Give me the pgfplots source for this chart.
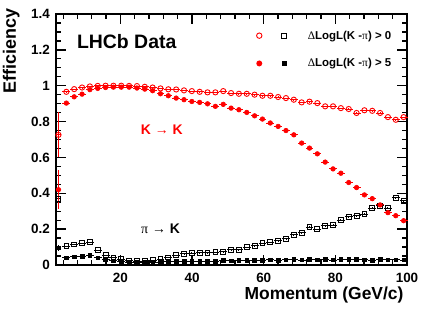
\documentclass[border=0pt]{standalone}
\usepackage{pgfplots}
\usepackage{pgfplotstable}
\pgfplotsset{compat=1.18}
\usepackage{fontspec}
\setmainfont{Liberation Sans}
\newfontfamily\symf{Liberation Serif}
\definecolor{rootred}{RGB}{255,0,0}

% K -> K, DLL(K-pi) > 0
\pgfplotstableread{
x y ex ey
2.70 0.726 0.7 0.125
4.89 0.966 1.1 0.003
7.08 0.981 1.1 0.003
9.27 0.990 1.1 0.003
11.46 0.996 1.1 0.003
13.65 0.999 1.1 0.003
15.84 1.000 1.1 0.003
18.03 1.000 1.1 0.003
20.22 1.000 1.1 0.003
22.41 0.999 1.1 0.003
24.60 0.998 1.1 0.003
26.79 0.994 1.1 0.003
28.98 0.990 1.1 0.003
31.17 0.985 1.1 0.003
33.36 0.980 1.1 0.003
35.55 0.979 1.1 0.003
37.74 0.974 1.1 0.003
39.93 0.970 1.1 0.003
42.12 0.966 1.1 0.003
44.31 0.963 1.1 0.003
46.50 0.963 1.1 0.003
48.69 0.970 1.1 0.003
50.88 0.959 1.1 0.003
53.07 0.955 1.1 0.003
55.26 0.955 1.1 0.003
57.45 0.950 1.1 0.003
59.64 0.944 1.1 0.003
61.83 0.944 1.1 0.003
64.02 0.937 1.1 0.003
66.21 0.931 1.1 0.003
68.40 0.922 1.1 0.003
70.59 0.907 1.1 0.003
72.78 0.911 1.1 0.003
74.97 0.903 1.1 0.003
77.16 0.885 1.1 0.003
79.35 0.885 1.1 0.003
81.54 0.875 1.1 0.003
83.73 0.870 1.1 0.003
85.92 0.848 1.1 0.003
88.11 0.863 1.1 0.003
90.30 0.860 1.1 0.003
92.49 0.848 1.1 0.003
94.68 0.825 1.1 0.003
96.87 0.810 1.1 0.003
99.06 0.825 1.1 0.003
}\redopen

% K -> K, DLL(K-pi) > 5
\pgfplotstableread{
x y ex ey
2.70 0.420 0.7 0.110
4.89 0.903 1.1 0.004
7.08 0.938 1.1 0.004
9.27 0.953 1.1 0.004
11.46 0.978 1.1 0.004
13.65 0.985 1.1 0.004
15.84 0.990 1.1 0.004
18.03 0.992 1.1 0.004
20.22 0.992 1.1 0.004
22.41 0.992 1.1 0.004
24.60 0.987 1.1 0.004
26.79 0.981 1.1 0.004
28.98 0.972 1.1 0.004
31.17 0.955 1.1 0.004
33.36 0.944 1.1 0.004
35.55 0.931 1.1 0.004
37.74 0.922 1.1 0.004
39.93 0.912 1.1 0.004
42.12 0.907 1.1 0.004
44.31 0.899 1.1 0.004
46.50 0.885 1.1 0.004
48.69 0.896 1.1 0.004
50.88 0.875 1.1 0.004
53.07 0.866 1.1 0.004
55.26 0.851 1.1 0.005
57.45 0.832 1.1 0.005
59.64 0.814 1.1 0.005
61.83 0.792 1.1 0.005
64.02 0.773 1.1 0.005
66.21 0.750 1.1 0.005
68.40 0.726 1.1 0.005
70.59 0.680 1.1 0.006
72.78 0.652 1.1 0.006
74.97 0.620 1.1 0.006
77.16 0.574 1.1 0.006
79.35 0.536 1.1 0.006
81.54 0.512 1.1 0.006
83.73 0.460 1.1 0.006
85.92 0.432 1.1 0.006
88.11 0.391 1.1 0.006
90.30 0.370 1.1 0.006
92.49 0.335 1.1 0.006
94.68 0.292 1.1 0.006
96.87 0.275 1.1 0.006
99.06 0.247 1.1 0.006
}\redfilled

% pi -> K, DLL(K-pi) > 0
\pgfplotstableread{
x y ex ey
2.70 0.370 0.7 0.030
4.89 0.105 1.1 0.003
7.08 0.115 1.1 0.003
9.27 0.122 1.1 0.003
11.46 0.128 1.1 0.003
13.65 0.082 1.1 0.003
15.84 0.055 1.1 0.003
18.03 0.042 1.1 0.003
20.22 0.032 1.1 0.003
22.41 0.025 1.1 0.003
24.60 0.022 1.1 0.003
26.79 0.022 1.1 0.003
28.98 0.026 1.1 0.003
31.17 0.032 1.1 0.003
33.36 0.042 1.1 0.003
35.55 0.055 1.1 0.003
37.74 0.063 1.1 0.003
39.93 0.067 1.1 0.003
42.12 0.069 1.1 0.003
44.31 0.069 1.1 0.003
46.50 0.071 1.1 0.003
48.69 0.074 1.1 0.003
50.88 0.084 1.1 0.003
53.07 0.086 1.1 0.003
55.26 0.099 1.1 0.003
57.45 0.108 1.1 0.003
59.64 0.121 1.1 0.003
61.83 0.127 1.1 0.003
64.02 0.136 1.1 0.003
66.21 0.146 1.1 0.003
68.40 0.168 1.1 0.004
70.59 0.180 1.1 0.004
72.78 0.211 1.1 0.004
74.97 0.199 1.1 0.004
77.16 0.220 1.1 0.004
79.35 0.223 1.1 0.004
81.54 0.251 1.1 0.005
83.73 0.270 1.1 0.005
85.92 0.275 1.1 0.005
88.11 0.283 1.1 0.005
90.30 0.317 1.1 0.005
92.49 0.330 1.1 0.005
94.68 0.317 1.1 0.005
96.87 0.376 1.1 0.006
99.06 0.359 1.1 0.006
}\blackopen

% pi -> K, DLL(K-pi) > 5
\pgfplotstableread{
x y ex ey
2.70 0.095 0.7 0.015
4.89 0.040 1.1 0.003
7.08 0.046 1.1 0.003
9.27 0.050 1.1 0.003
11.46 0.054 1.1 0.003
13.65 0.040 1.1 0.003
15.84 0.032 1.1 0.003
18.03 0.024 1.1 0.003
20.22 0.019 1.1 0.003
22.41 0.016 1.1 0.003
24.60 0.015 1.1 0.003
26.79 0.015 1.1 0.003
28.98 0.016 1.1 0.003
31.17 0.017 1.1 0.003
33.36 0.018 1.1 0.003
35.55 0.019 1.1 0.003
37.74 0.020 1.1 0.003
39.93 0.021 1.1 0.003
42.12 0.020 1.1 0.003
44.31 0.022 1.1 0.003
46.50 0.022 1.1 0.004
48.69 0.025 1.1 0.004
50.88 0.023 1.1 0.004
53.07 0.025 1.1 0.004
55.26 0.026 1.1 0.004
57.45 0.027 1.1 0.004
59.64 0.025 1.1 0.004
61.83 0.029 1.1 0.004
64.02 0.027 1.1 0.004
66.21 0.029 1.1 0.005
68.40 0.031 1.1 0.005
70.59 0.028 1.1 0.005
72.78 0.032 1.1 0.005
74.97 0.030 1.1 0.005
77.16 0.031 1.1 0.005
79.35 0.028 1.1 0.005
81.54 0.032 1.1 0.005
83.73 0.031 1.1 0.005
85.92 0.033 1.1 0.006
88.11 0.030 1.1 0.006
90.30 0.027 1.1 0.006
92.49 0.031 1.1 0.006
94.68 0.030 1.1 0.006
96.87 0.029 1.1 0.006
99.06 0.028 1.1 0.006
}\blackfilled

\begin{document}
\begin{tikzpicture}
\path[use as bounding box] (-56bp,-46bp) rectangle (371bp,265bp);
\begin{axis}[
  at={(0,0)}, anchor=south west,
  scale only axis, width=351bp, height=251bp,
  xmin=2, xmax=100, ymin=0, ymax=1.4,
  clip=false,
  xtick={20,40,60,80,100},
  ytick={0,0.2,0.4,0.6,0.8,1,1.2,1.4},
  minor xtick={4,8,12,16,24,28,32,36,44,48,52,56,64,68,72,76,84,88,92,96},
  minor ytick={0.05,0.1,0.15,0.25,0.3,0.35,0.45,0.5,0.55,0.65,0.7,0.75,0.85,0.9,0.95,1.05,1.1,1.15,1.25,1.3,1.35},
  xtick pos=both, ytick pos=both,
  xticklabel pos=lower, yticklabel pos=left,
  tick align=inside,
  major tick length=10bp, minor tick length=5bp,
  every tick/.style={black, line width=1.3bp},
  axis line style={line width=1.6bp},
  /pgf/number format/assume math mode=true,
  tick label style={font=\fontsize{13.5}{15}\selectfont\bfseries},
  xticklabel style={anchor=base, yshift=-17bp},
  yticklabel style={anchor=east, inner sep=0pt, xshift=-6bp},
  legend style={draw=none, fill=none, at={(rel axis cs:0.960,0.940)}, anchor=north east,
    inner sep=0pt, row sep=15bp, nodes={inner sep=1.5bp},
    font=\fontsize{11.5}{13}\selectfont\bfseries},
  legend cell align=left,
]
% pi -> K
\addplot[forget plot, only marks, black, mark=square, mark size=2.4bp, mark options={line width=0.9bp, fill=white},
  error bars/.cd, x dir=both, x explicit, y dir=both, y explicit, error mark=none,
  error bar style={line width=0.9bp, black}]
  table[x=x, y=y, x error=ex, y error=ey] {\blackopen};
\addplot[forget plot, only marks, black, mark=square*, mark size=1.8bp, mark options={line width=0.6bp, fill=black},
  error bars/.cd, x dir=both, x explicit, y dir=both, y explicit, error mark=none,
  error bar style={line width=0.9bp, black}]
  table[x=x, y=y, x error=ex, y error=ey] {\blackfilled};
% K -> K
\addplot[forget plot, only marks, rootred, mark=o, mark size=2.6bp, mark options={line width=0.9bp, fill=white},
  error bars/.cd, x dir=both, x explicit, y dir=both, y explicit, error mark=none,
  error bar style={line width=0.9bp, rootred}]
  table[x=x, y=y, x error=ex, y error=ey] {\redopen};
\addplot[forget plot, only marks, rootred, mark=*, mark size=2.3bp, mark options={line width=0.6bp, fill=rootred},
  error bars/.cd, x dir=both, x explicit, y dir=both, y explicit, error mark=none,
  error bar style={line width=1bp, rootred}]
  table[x=x, y=y, x error=ex, y error=ey] {\redfilled};

\addlegendimage{legend image code/.code={
  \path[draw=none, fill=none] (-3bp,-0.1bp) rectangle (47bp,0.1bp);
  \draw[rootred, line width=0.9bp, fill=none] (0bp,0bp) circle[radius=2.7bp];
  \draw[black, line width=0.9bp, fill=none] (22.6bp,-2.5bp) rectangle (27.6bp,2.5bp);}}
\addlegendentry{{\symf\mdseries Δ}LogL(K -{\symf\mdseries π}) > 0}
\addlegendimage{legend image code/.code={
  \path[draw=none, fill=none] (-3bp,-0.1bp) rectangle (47bp,0.1bp);
  \fill[rootred, draw=none] (0bp,0bp) circle[radius=3bp];
  \fill[black, draw=none] (22.4bp,-2.6bp) rectangle (27.6bp,2.6bp);}}
\addlegendentry{{\symf\mdseries Δ}LogL(K -{\symf\mdseries π}) > 5}

\node[anchor=base west, font=\fontsize{19.5}{22}\selectfont\bfseries] at (axis cs:6.9,1.205) {LHCb Data};
\node[anchor=base west, text=rootred, font=\fontsize{14}{16}\selectfont\bfseries] at (axis cs:24.7,0.726) {K {\symf\mdseries →} K};
\node[anchor=base west, text=black, font=\fontsize{14}{16}\selectfont\bfseries] at (axis cs:24.8,0.177) {{\symf\mdseries π} {\symf\mdseries →} K};

\path (rel axis cs:0,1) ++(-40bp,9bp) node[rotate=90, anchor=base east, font=\fontsize{18}{20}\selectfont\bfseries] {Efficiency};
\path (rel axis cs:1,0) ++(0bp,-34bp) node[anchor=base east, font=\fontsize{17.5}{20}\selectfont\bfseries] {Momentum (GeV/c)};
\end{axis}
\end{tikzpicture}
\end{document}
